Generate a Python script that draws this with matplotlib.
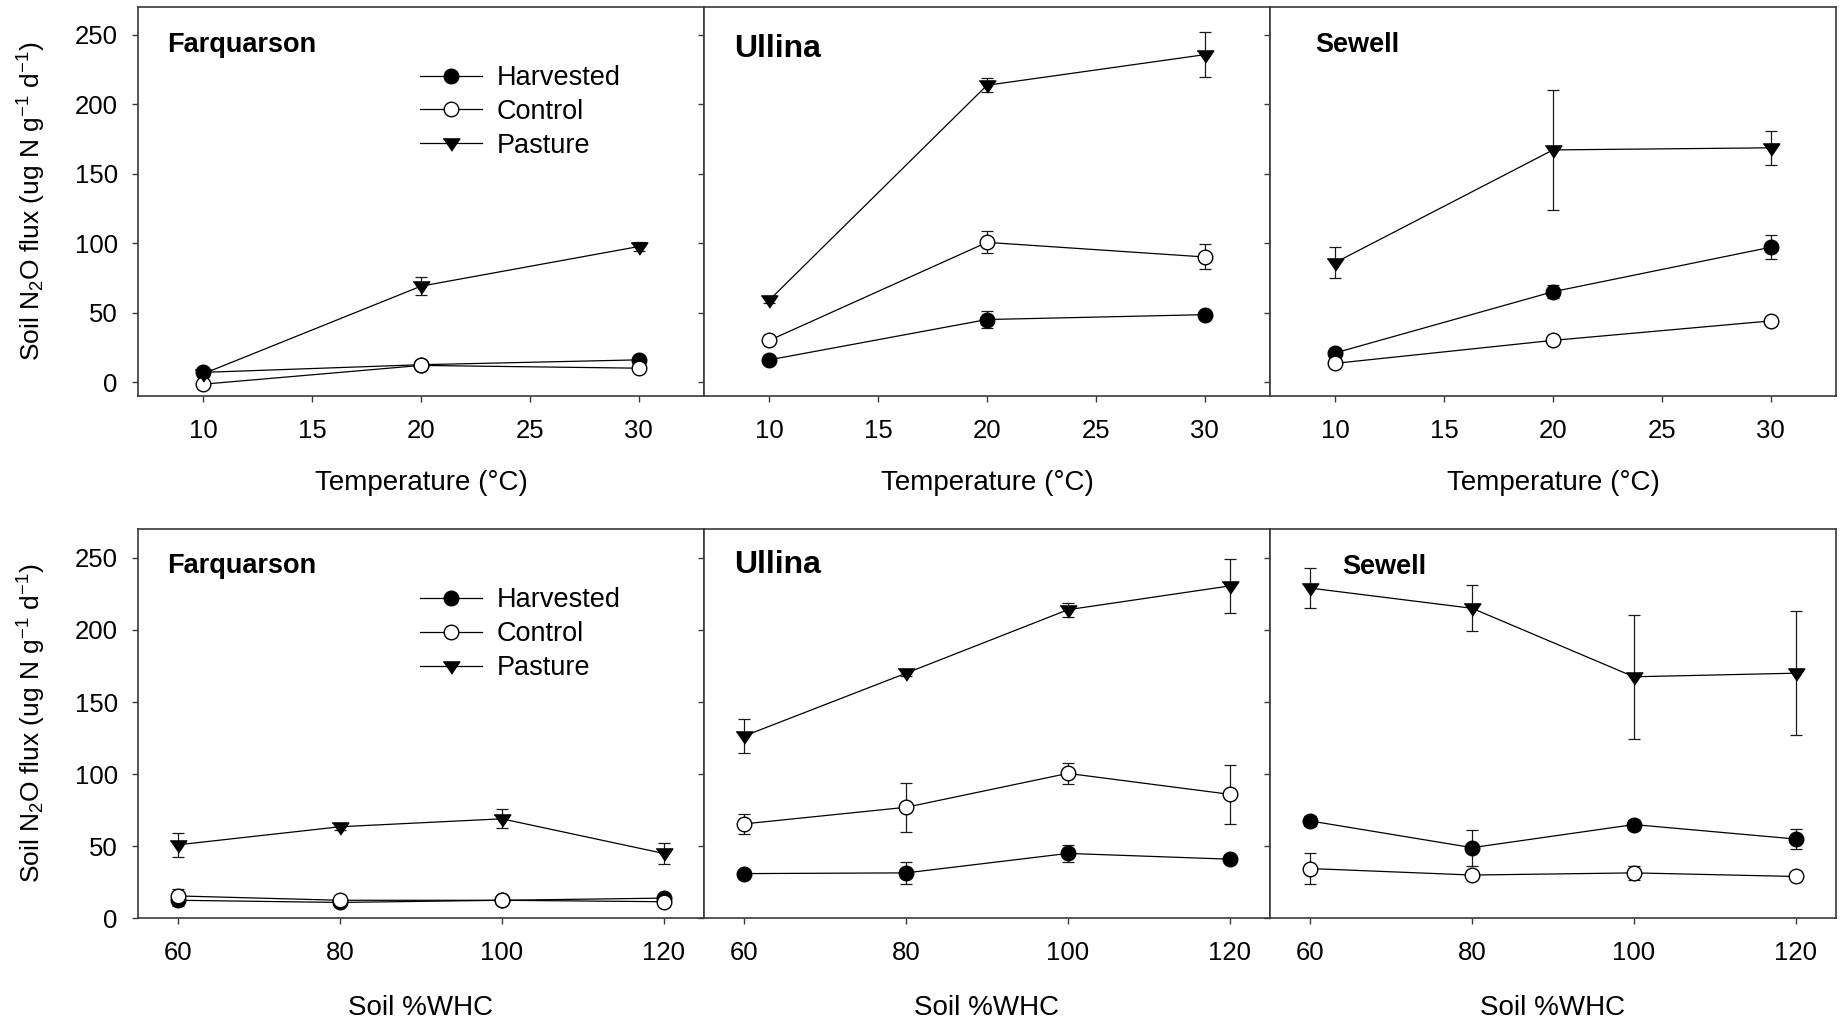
import matplotlib.pyplot as plt

plt.rcParams['font.family'] = ['Liberation Sans', 'DejaVu Sans']
plt.rcParams['mathtext.fontset'] = 'custom'
plt.rcParams['mathtext.rm'] = 'Liberation Sans'
plt.rcParams['mathtext.it'] = 'Liberation Sans:italic'
plt.rcParams['mathtext.bf'] = 'Liberation Sans:bold'

# x values
temp = [10, 20, 30]
whc = [60, 80, 100, 120]

# temperature experiment (mean, error)
far_t_harv = [7, 12.5, 16]
far_t_harv_err = [2, 1.5, 2]
far_t_ctrl = [-1.5, 12, 10]
far_t_ctrl_err = [1.5, 1.5, 1.5]
far_t_past = [6, 69, 97.5]
far_t_past_err = [2, 6.5, 3]

ull_t_harv = [16, 45, 48.5]
ull_t_harv_err = [2, 6, 2]
ull_t_ctrl = [30, 100.5, 90]
ull_t_ctrl_err = [2, 8, 9]
ull_t_past = [59, 213.5, 235.5]
ull_t_past_err = [2, 5, 16]

sew_t_harv = [21, 65, 97]
sew_t_harv_err = [2, 4.5, 8.5]
sew_t_ctrl = [13.5, 30, 44]
sew_t_ctrl_err = [1.5, 1.5, 1.5]
sew_t_past = [86, 167, 168.5]
sew_t_past_err = [11, 43, 12]

# water holding capacity experiment
far_w_harv = [12.5, 11, 12.5, 14]
far_w_harv_err = [4, 1.5, 1.5, 2]
far_w_ctrl = [15.5, 12.5, 12.5, 11.5]
far_w_ctrl_err = [4.5, 1.5, 1.5, 1.5]
far_w_past = [51, 63.5, 69, 45]
far_w_past_err = [8.5, 2, 6.5, 7]

ull_w_harv = [31, 31.5, 45, 41]
ull_w_harv_err = [2, 7.5, 6, 2]
ull_w_ctrl = [65.5, 77, 100.5, 86]
ull_w_ctrl_err = [7, 17, 7.5, 20.5]
ull_w_past = [126.5, 170, 214, 230.5]
ull_w_past_err = [12, 2, 5, 18.5]

sew_w_harv = [67.5, 49, 65, 55]
sew_w_harv_err = [3.5, 12.5, 3.5, 7]
sew_w_ctrl = [34.5, 30, 31.5, 29]
sew_w_ctrl_err = [10.5, 2, 5, 2]
sew_w_past = [229, 215, 167.5, 170]
sew_w_past_err = [14, 16, 43, 43]

sites = ['Farquarson', 'Ullina', 'Sewell']
treatments = ['Harvested', 'Control', 'Pasture']

top_data = [
    [(far_t_harv, far_t_harv_err), (far_t_ctrl, far_t_ctrl_err), (far_t_past, far_t_past_err)],
    [(ull_t_harv, ull_t_harv_err), (ull_t_ctrl, ull_t_ctrl_err), (ull_t_past, ull_t_past_err)],
    [(sew_t_harv, sew_t_harv_err), (sew_t_ctrl, sew_t_ctrl_err), (sew_t_past, sew_t_past_err)],
]
bot_data = [
    [(far_w_harv, far_w_harv_err), (far_w_ctrl, far_w_ctrl_err), (far_w_past, far_w_past_err)],
    [(ull_w_harv, ull_w_harv_err), (ull_w_ctrl, ull_w_ctrl_err), (ull_w_past, ull_w_past_err)],
    [(sew_w_harv, sew_w_harv_err), (sew_w_ctrl, sew_w_ctrl_err), (sew_w_past, sew_w_past_err)],
]

# wide, flat down-pointing triangle like the SigmaPlot symbol
tri = [(-1, 0.55), (1, 0.55), (0, -0.92)]
styles = {
    'Harvested': dict(marker='o', mfc='black', ms=10.5),
    'Control': dict(marker='o', mfc='white', ms=10.5),
    'Pasture': dict(marker=tri, mfc='black', ms=12),
}

W, H = 1842, 1019
fig = plt.figure(figsize=(W / 100, H / 100), dpi=100)

spine_col = '#3a3a3a'
rows = [
    dict(data=top_data, x=temp, bottom=1 - 396 / H, xlim=(7, 33), ylim=(-10, 270),
         xticks=[10, 15, 20, 25, 30], xlabel='Temperature (°C)', xlab_y=-0.19,
         title_y=[0.884, 0.870, 0.884], title_x=[0.051, 0.054, 0.08]),
    dict(data=bot_data, x=whc, bottom=1 - 918.3 / H, xlim=(55, 125), ylim=(0, 270),
         xticks=[60, 80, 100, 120], xlabel='Soil %WHC', xlab_y=-0.196,
         title_y=[0.887, 0.887, 0.884], title_x=[0.051, 0.054, 0.128]),
]
title_size = [19.5, 23, 19.5]

for row in rows:
    for i, site in enumerate(sites):
        ax = fig.add_axes([(138 + i * 566) / W, row['bottom'], 566 / W, 389.3 / H])
        lines = []
        for tname, (vals, errs) in zip(treatments, row['data'][i]):
            ax.errorbar(row['x'], vals, yerr=errs, fmt='none', ecolor='#1a1a1a',
                        elinewidth=0.9, capsize=4.5, capthick=0.9, zorder=2)
            ln, = ax.plot(row['x'], vals, color='black', lw=0.9, mec='black', mew=1,
                          label=tname, zorder=3, **styles[tname])
            lines.append(ln)
        ax.set_xlim(row['xlim'])
        ax.set_ylim(row['ylim'])
        ax.set_xticks(row['xticks'])
        ax.set_yticks([0, 50, 100, 150, 200, 250])
        ax.tick_params(axis='both', direction='out', length=4.5, width=1,
                       color=spine_col, labelsize=18.5)
        ax.tick_params(axis='x', pad=12)
        ax.tick_params(axis='y', pad=10)
        for sp in ax.spines.values():
            sp.set_color(spine_col)
            sp.set_linewidth(1.2)
        ax.set_xlabel(row['xlabel'], fontsize=20)
        ax.xaxis.set_label_coords(0.5, row['xlab_y'])
        ax.text(row['title_x'][i], row['title_y'][i], site, transform=ax.transAxes,
                fontsize=title_size[i], fontweight='bold', va='baseline', ha='left')
        if i == 0:
            ax.set_ylabel('Soil N$_2$O flux (ug N g$^{-1}$ d$^{-1}$)', fontsize=19)
            ax.yaxis.set_label_coords(-0.159, 0.5)
            ax.legend(handles=lines, loc='upper left', bbox_to_anchor=(0.498, 0.85),
                      frameon=False, fontsize=19.5, handlelength=2.3,
                      handletextpad=0.55, labelspacing=0.29, borderpad=0,
                      borderaxespad=0, numpoints=1)
        else:
            ax.tick_params(axis='y', labelleft=False)

fig.savefig('out.png', dpi=100)
